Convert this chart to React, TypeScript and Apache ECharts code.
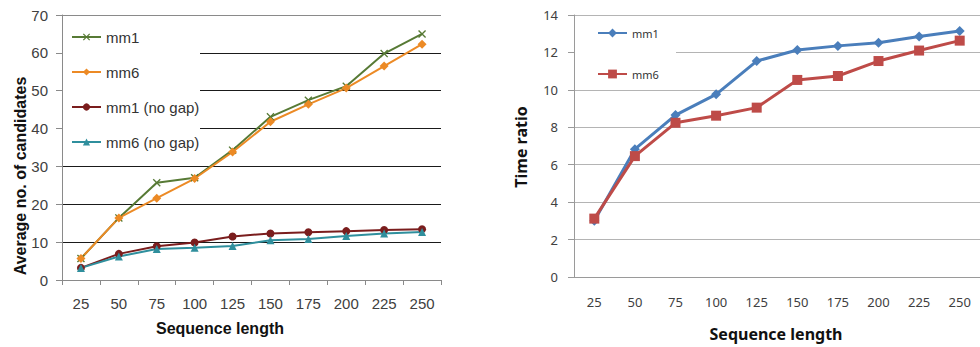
import React, { useEffect, useRef } from "react";
import * as echarts from "echarts";

const categories = ["25", "50", "75", "100", "125", "150", "175", "200", "225", "250"];

// Left chart: average number of candidates
const leftMm1 = [5.7, 16.4, 25.7, 27.0, 34.3, 43.1, 47.5, 51.2, 59.8, 65.0];
const leftMm6 = [5.7, 16.4, 21.6, 26.8, 33.8, 41.8, 46.4, 50.7, 56.5, 62.3];
const leftMm1NoGap = [3.2, 6.9, 8.9, 9.9, 11.5, 12.3, 12.6, 12.9, 13.2, 13.4];
const leftMm6NoGap = [3.2, 6.2, 8.2, 8.5, 9.0, 10.5, 10.8, 11.6, 12.3, 12.7];

// Right chart: time ratio
const rightMm1 = [3.0, 6.83, 8.65, 9.76, 11.54, 12.13, 12.35, 12.52, 12.85, 13.15];
const rightMm6 = [3.12, 6.46, 8.24, 8.62, 9.05, 10.53, 10.74, 11.54, 12.1, 12.63];

const leftNames = ["mm1", "mm6", "mm1 (no gap)", "mm6 (no gap)"];
const rightNames = ["mm1 ", "mm6 "];

const xSymbol =
  "path://M0,1.2L1.2,0L5,3.8L8.8,0L10,1.2L6.2,5L10,8.8L8.8,10L5,6.2L1.2,10L0,8.8L3.8,5Z";

const LFONT = "'Liberation Sans', Arial, sans-serif";
const RFONT = "'Noto Sans', 'Open Sans', sans-serif";

export default function App() {
  const ref = useRef<HTMLDivElement>(null);
  useEffect(() => {
    document.body.style.margin = "0";
    const chart = echarts.init(ref.current!, undefined, { renderer: "svg" });
    const option: any = {
      animation: false,
      backgroundColor: "#ffffff",
      grid: [
        { left: 62, top: 15, width: 379, height: 265 },
        { left: 574, top: 15, width: 407, height: 262 },
      ],
      xAxis: [
        {
          type: "category",
          gridIndex: 0,
          data: categories,
          boundaryGap: true,
          axisLine: { lineStyle: { color: "#8a8a8a", width: 1 } },
          axisTick: { show: true, length: 5, lineStyle: { color: "#8a8a8a" } },
          axisLabel: { color: "#404040", fontSize: 15, fontFamily: LFONT, margin: 16 },
        },
        {
          type: "category",
          gridIndex: 1,
          data: categories,
          boundaryGap: true,
          axisLine: { lineStyle: { color: "#9a9a9a", width: 1 } },
          axisTick: { show: false },
          axisLabel: { color: "#404040", fontSize: 13, fontFamily: RFONT, margin: 18 },
        },
      ],
      yAxis: [
        {
          type: "value",
          gridIndex: 0,
          min: 0,
          max: 70,
          interval: 10,
          axisLine: { show: true, lineStyle: { color: "#8a8a8a" } },
          axisTick: { show: true, length: 6, lineStyle: { color: "#8a8a8a" } },
          axisLabel: { color: "#404040", fontSize: 15, fontFamily: LFONT, margin: 14 },
          splitLine: {
            show: true,
            lineStyle: {
              width: 1,
              color: ["#8a8a8a", "#1a1a1a", "#1a1a1a", "#1a1a1a", "#1a1a1a", "#1a1a1a", "#1a1a1a", "#8a8a8a"],
            },
          },
        },
        {
          type: "value",
          gridIndex: 1,
          min: 0,
          max: 14,
          interval: 2,
          axisLine: { show: true, lineStyle: { color: "#9a9a9a" } },
          axisTick: { show: true, length: 6, lineStyle: { color: "#9a9a9a" } },
          axisLabel: { color: "#404040", fontSize: 13, fontFamily: RFONT, margin: 16 },
          splitLine: { show: true, lineStyle: { width: 1, color: "#b4b4b4" } },
        },
      ],
      legend: [
        {
          data: leftNames,
          orient: "vertical",
          left: 66,
          top: 24,
          itemWidth: 29,
          itemHeight: 9,
          itemGap: 19,
          textStyle: { fontSize: 15, fontFamily: LFONT, color: "#333", lineHeight: 16 },
        },
        {
          data: rightNames,
          orient: "vertical",
          left: 592,
          top: 22,
          itemWidth: 29,
          itemHeight: 11,
          itemGap: 29,
          textStyle: { fontSize: 11, fontFamily: RFONT, color: "#333", lineHeight: 12 },
        },
      ],
      graphic: [
        { type: "rect", z: 1, shape: { x: 63, y: 18, width: 137, height: 142 }, style: { fill: "#ffffff" } },
        { type: "rect", z: 1, shape: { x: 575, y: 20, width: 101, height: 64 }, style: { fill: "#ffffff" } },
        {
          type: "text",
          x: 220,
          y: 328,
          style: {
            text: "Sequence length",
            font: `bold 16px ${LFONT}`,
            fill: "#111",
            align: "center",
            verticalAlign: "middle",
          },
        },
        {
          type: "text",
          x: 20,
          y: 176,
          rotation: Math.PI / 2,
          style: {
            text: "Average no. of candidates",
            font: `bold 16px ${LFONT}`,
            fill: "#111",
            align: "center",
            verticalAlign: "middle",
          },
        },
        {
          type: "text",
          x: 776,
          y: 334,
          style: {
            text: "Sequence length",
            font: `bold 16px ${RFONT}`,
            fill: "#111",
            align: "center",
            verticalAlign: "middle",
          },
        },
        {
          type: "text",
          x: 521,
          y: 147,
          rotation: Math.PI / 2,
          style: {
            text: "Time ratio",
            font: `bold 16px ${RFONT}`,
            fill: "#111",
            align: "center",
            verticalAlign: "middle",
          },
        },
      ],
      series: [
        {
          name: leftNames[0],
          type: "line",
          xAxisIndex: 0,
          yAxisIndex: 0,
          data: leftMm1,
          symbol: xSymbol,
          symbolSize: 8,
          lineStyle: { color: "#577a35", width: 2 },
          itemStyle: { color: "#577a35" },
        },
        {
          name: leftNames[1],
          type: "line",
          xAxisIndex: 0,
          yAxisIndex: 0,
          data: leftMm6,
          symbol: "diamond",
          symbolSize: 9,
          lineStyle: { color: "#ec8a25", width: 2 },
          itemStyle: { color: "#ec8a25" },
        },
        {
          name: leftNames[2],
          type: "line",
          xAxisIndex: 0,
          yAxisIndex: 0,
          data: leftMm1NoGap,
          symbol: "circle",
          symbolSize: 8,
          lineStyle: { color: "#7a1d1d", width: 2 },
          itemStyle: { color: "#7a1d1d" },
        },
        {
          name: leftNames[3],
          type: "line",
          xAxisIndex: 0,
          yAxisIndex: 0,
          data: leftMm6NoGap,
          symbol: "triangle",
          symbolSize: 8,
          lineStyle: { color: "#2f8f9d", width: 2 },
          itemStyle: { color: "#2f8f9d" },
        },
        {
          name: rightNames[0],
          type: "line",
          xAxisIndex: 1,
          yAxisIndex: 1,
          data: rightMm1,
          symbol: "diamond",
          symbolSize: 10,
          lineStyle: { color: "#4a7ebb", width: 3 },
          itemStyle: { color: "#4a7ebb" },
        },
        {
          name: rightNames[1],
          type: "line",
          xAxisIndex: 1,
          yAxisIndex: 1,
          data: rightMm6,
          symbol: "rect",
          symbolSize: 10,
          lineStyle: { color: "#be4b48", width: 3 },
          itemStyle: { color: "#be4b48" },
        },
      ],
    };
    chart.setOption(option);
    return () => chart.dispose();
  }, []);
  return (
    <div
      ref={ref}
      style={{ position: "fixed", left: 0, top: 0, width: 980, height: 347 }}
    />
  );
}
